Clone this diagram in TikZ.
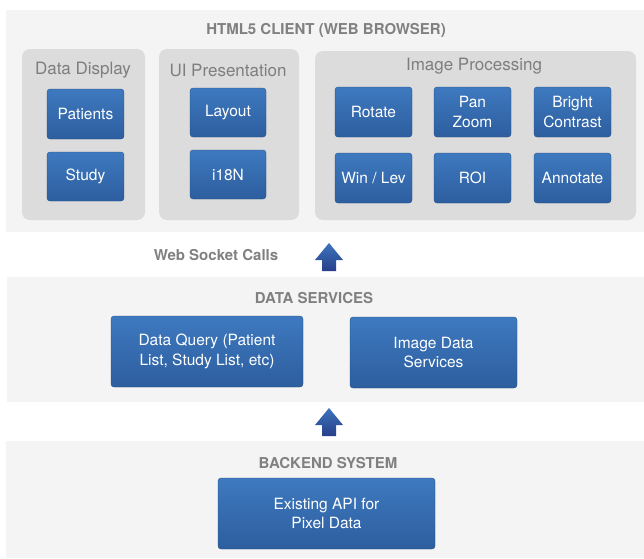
\documentclass[tikz,border=0pt]{standalone}
\usepackage{fontspec}
\setmainfont{TeX Gyre Heros}
\definecolor{band}{HTML}{F4F4F4}
\definecolor{panel}{HTML}{DCDCDC}
\definecolor{bluetop}{HTML}{3E79BF}
\definecolor{bluebot}{HTML}{2D5E9F}
\definecolor{arrtop}{HTML}{3C74BC}
\definecolor{arrbot}{HTML}{273F8A}
\definecolor{titlegray}{HTML}{808080}
\definecolor{subgray}{HTML}{7E7E7E}
\tikzset{
  bandbox/.style={fill=band, draw=none},
  panelbox/.style={fill=panel, draw=none, rounded corners=8pt},
  bluebox/.style={rounded corners=3pt, top color=bluetop, bottom color=bluebot, draw=bluebot!80!black, line width=0.3pt,
    text=white, align=center, inner sep=0pt, font=\fontsize{15.5}{19.5}\selectfont},
  bandtitle/.style={text=titlegray, font=\fontsize{15}{17}\selectfont\bfseries, inner sep=0pt},
  paneltitle/.style={text=subgray, font=\fontsize{17}{19}\selectfont, inner sep=0pt},
  uparrow/.style={top color=arrtop, bottom color=arrbot, draw=none}
}
\begin{document}
\begin{tikzpicture}[x=1pt,y=-1pt]
\useasboundingbox[fill=white] (0,0) rectangle (644,558);
% bands
\path[bandbox] (6,10) rectangle (644,232);
\path[bandbox] (7,277) rectangle (644,402);
\path[bandbox] (6,441) rectangle (644,558);
% panels
\path[panelbox] (22,49) rectangle (145,220);
\path[panelbox] (159,49) rectangle (299,220);
\path[panelbox] (315,51) rectangle (636,220);
% titles
\node[bandtitle] (t1) at (326,30) {HTML5 CLIENT (WEB BROWSER)};
\node[paneltitle] (p1) at (83,70) {Data Display};
\node[paneltitle] (p2) at (228,70) {UI Presentation};
\node[paneltitle] (p3) at (474,66) {Image Processing};
\node[bandtitle] (wsc) at (216,255) {Web Socket Calls};
\node[bandtitle] (t2) at (314,298) {DATA SERVICES};
\node[bandtitle] (t3) at (328,463) {BACKEND SYSTEM};
% blue boxes
\node[bluebox, minimum width=77pt, minimum height=50pt] (patients) at (85.5,114) {Patients};
\node[bluebox, minimum width=77pt, minimum height=49pt] (study) at (85.5,176.5) {Study};
\node[bluebox, minimum width=76pt, minimum height=49pt] (layout) at (228,112.5) {Layout};
\node[bluebox, minimum width=76pt, minimum height=49pt] (i18n) at (228,174.5) {i18N};
\node[bluebox, minimum width=77pt, minimum height=50pt] (rotate) at (373.5,112) {Rotate};
\node[bluebox, minimum width=77pt, minimum height=50pt] (pan) at (472.5,112) {Pan\\Zoom};
\node[bluebox, minimum width=77pt, minimum height=50pt] (bright) at (572.5,112) {Bright\\Contrast};
\node[bluebox, minimum width=77pt, minimum height=50pt] (winlev) at (373.5,178) {Win / Lev};
\node[bluebox, minimum width=77pt, minimum height=50pt] (roi) at (472.5,178) {ROI};
\node[bluebox, minimum width=77pt, minimum height=50pt] (annotate) at (572.5,178) {Annotate};
\node[bluebox, minimum width=192pt, minimum height=71pt] (query) at (207,351.5) {Data Query (Patient\\List, Study List, etc)};
\node[bluebox, minimum width=167pt, minimum height=71pt] (imgdata) at (433.5,352.5) {Image Data\\Services};
\node[bluebox, minimum width=217pt, minimum height=71pt] (api) at (326.5,513.5) {Existing API for\\Pixel Data};
% arrows
\path[uparrow] (329,243) -- (343,260) -- (336,260) -- (336,271) -- (322,271) -- (322,260) -- (315,260) -- cycle;
\path[uparrow] (329,408) -- (343,425) -- (336,425) -- (336,436) -- (322,436) -- (322,425) -- (315,425) -- cycle;
\end{tikzpicture}
\end{document}
